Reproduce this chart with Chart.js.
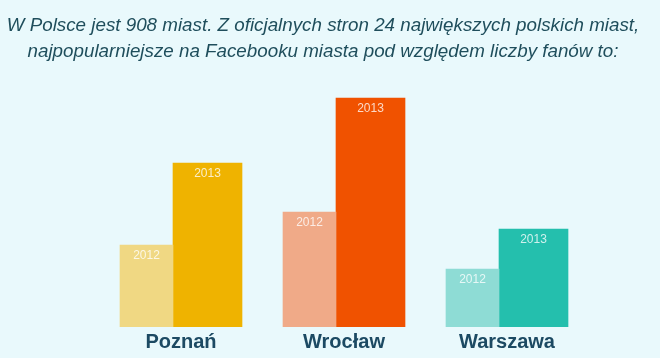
<!DOCTYPE html>
<html>
<head>
<meta charset="utf-8">
<script src="https://cdn.jsdelivr.net/npm/chart.js@4/dist/chart.umd.min.js"></script>
<style>
  html, body { margin: 0; padding: 0; background: #e9f9fc; }
  #wrap { width: 660px; height: 358px; }
</style>
</head>
<body>
<div id="wrap"><canvas id="chart"></canvas></div>
<script>
// fan counts (rough units)
const cities = ['Poznań', 'Wrocław', 'Warszawa']
const years = ['2012', '2013']
const fans2012 = [82, 115, 58]
const fans2013 = [164, 229, 98]
const colors2012 = ['#f0d883', '#f0aa88', '#8edcd5']
const colors2013 = ['#efb300', '#f05200', '#24bfad']
const titleLines = [
  'W Polsce jest 908 miast. Z oficjalnych stron 24 największych polskich miast,',
  'najpopularniejsze na Facebooku miasta pod względem liczby fanów to:'
]

// draws the year inside the top of each bar
const yearLabels = {
  id: 'yearLabels',
  afterDatasetsDraw(chart) {
    const ctx = chart.ctx
    ctx.save()
    ctx.font = '12px "Liberation Sans", Arial, sans-serif'
    ctx.fillStyle = 'rgba(255, 255, 255, 0.78)'
    ctx.textAlign = 'center'
    ctx.textBaseline = 'middle'
    chart.data.datasets.forEach((ds, i) => {
      chart.getDatasetMeta(i).data.forEach(bar => {
        ctx.fillText(ds.label, bar.x, bar.y + 11)
      })
    })
    ctx.restore()
  }
}

const ctx = document.getElementById('chart').getContext('2d')
new Chart(ctx, {
  type: 'bar',
  data: {
    labels: cities,
    datasets: [
      { label: years[0], data: fans2012, backgroundColor: colors2012, barThickness: 53 },
      { label: years[1], data: fans2013, backgroundColor: colors2013, barThickness: 69 }
    ]
  },
  options: {
    responsive: true,
    maintainAspectRatio: false,
    animation: false,
    layout: { padding: { top: 0, bottom: 0, left: 0, right: 14 } },
    plugins: {
      legend: { display: false },
      tooltip: { enabled: false },
      title: {
        display: true,
        text: titleLines,
        color: '#1f4e5c',
        font: { family: '"Liberation Sans", Arial, sans-serif', size: 18.8, style: 'italic', weight: 'normal', lineHeight: 1.42 },
        padding: { top: 12, bottom: 11.6 }
      }
    },
    scales: {
      x: {
        grid: { display: false, drawTicks: false },
        border: { display: false },
        ticks: {
          color: '#1c4a63',
          padding: 3,
          labelOffset: 8,
          font: { family: '"Liberation Sans", Arial, sans-serif', size: 20, weight: 'bold' }
        },
        afterFit: scale => { scale.height = 31 }
      },
      y: {
        min: 0,
        max: 250,
        grid: { display: false },
        border: { display: false },
        ticks: { display: false },
        afterFit: scale => { scale.width = 91.5 }
      },
      yRight: {
        position: 'right',
        grid: { display: false },
        border: { display: false },
        ticks: { display: false },
        afterFit: scale => { scale.width = 65.5 }
      }
    }
  },
  plugins: [yearLabels]
})
</script>
</body>
</html>
